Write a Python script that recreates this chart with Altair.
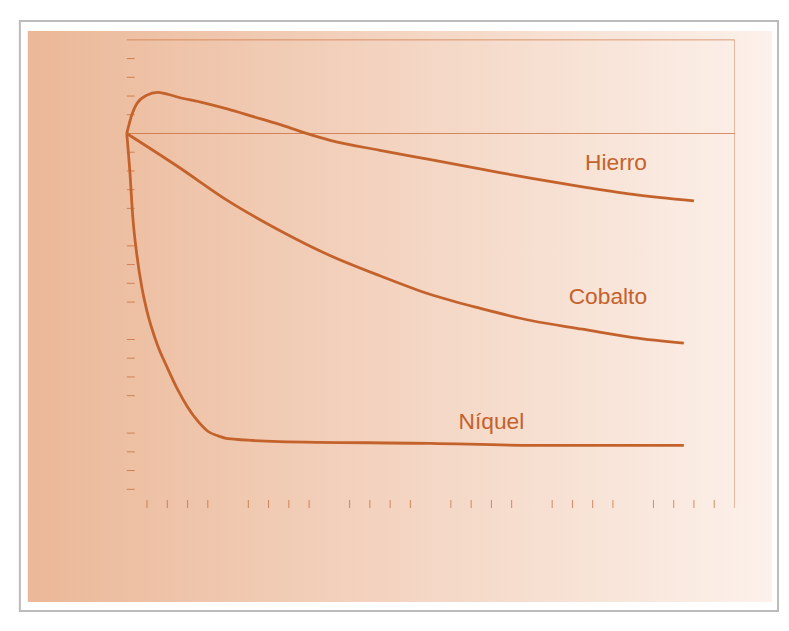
import altair as alt
import pandas as pd

hierro_x = [0, 0.5, 1, 2, 3, 4, 5, 7.5, 10, 12.5, 15, 17.5, 20, 25, 30, 35, 40, 45, 50, 56]
hierro_y = [0, 2, 3.2, 4.1, 4.4, 4.2, 3.9, 3.3, 2.6, 1.8, 1.0, 0.1, -0.7, -1.8, -2.8, -3.8, -4.8, -5.7, -6.5, -7.2]
cobalto_x = [0, 5, 10, 15, 20, 25, 30, 35, 40, 45, 50, 55]
cobalto_y = [0, -3.5, -7.2, -10.3, -13.0, -15.2, -17.2, -18.7, -20.0, -20.9, -21.8, -22.4]
niquel_x = [0, 0.3, 0.6, 1, 1.5, 2, 3, 4, 5, 6, 7, 8, 9, 10, 15, 30, 40, 55]
niquel_y = [0, -4, -9, -13, -16.5, -19, -22.5, -25, -27.3, -29.2, -30.7, -31.8, -32.3, -32.6, -32.9, -33.1, -33.3, -33.3]
labels = ["Hierro", "Cobalto", "Níquel"]
label_x = [48.3, 47.5, 36]
label_y = [-3.2, -17.5, -30.8]

C = "#c4622c"
rows = []
for name, xs_, ys_ in [("Hierro", hierro_x, hierro_y), ("Cobalto", cobalto_x, cobalto_y), ("Níquel", niquel_x, niquel_y)]:
    for i, (a, b) in enumerate(zip(xs_, ys_)):
        rows.append({"s": name, "H": a, "d": b, "o": i})
df = pd.DataFrame(rows)
lab = pd.DataFrame({"t": labels, "H": label_x, "d": label_y})

W, Hh = 614, 473
grad = {"gradient": "linear", "x1": 0, "x2": 1, "y1": 0, "y2": 0,
        "stops": [{"offset": 0, "color": "#ebb898"}, {"offset": 1, "color": "#fcf1eb"}]}

bg = alt.Chart(pd.DataFrame({"a": [0]})).mark_rect(fill=grad).encode(
    x=alt.value(-100), x2=alt.value(W + 38), y=alt.value(-9), y2=alt.value(Hh + 95))
frame = alt.Chart(pd.DataFrame({"a": [0]})).mark_rect(fill=None, stroke="#bbbbbb", strokeWidth=2).encode(
    x=alt.value(-108), x2=alt.value(W + 44), y=alt.value(-19), y2=alt.value(Hh + 104))

xs = alt.Scale(domain=[0, 60], nice=False)
ys = alt.Scale(domain=[-40, 10], nice=False)
xax = alt.Axis(title="Campo magnético H, kA/m", values=list(range(0, 61, 10)),
               grid=True, gridColor="#ffffff", gridOpacity=0.5, domainColor=C, tickColor=C,
               labelColor=C, titleColor=C, labelFontSize=20, titleFontSize=24, titleFontWeight="bold",
               labelFont="Liberation Sans", titleFont="Liberation Sans", tickSize=8, labelPadding=4,
               titlePadding=8)
yax = alt.Axis(title="Δl/l x 10⁻⁶ m/m", values=list(range(-40, 11, 10)), grid=False,
               domainColor=C, tickColor=C, labelColor=C, titleColor=C, labelFontSize=20,
               titleFontSize=22, titleFontWeight="bold", labelFont="Liberation Sans",
               titleFont="Liberation Sans", tickSize=8, titlePadding=10)

minor_x = alt.Chart(pd.DataFrame({"H": [v for v in range(0, 61, 2) if v % 10]})).mark_tick(
    color=C, orient="vertical", size=8, thickness=1).encode(
    x=alt.X("H:Q", scale=xs, axis=xax), y=alt.value(Hh - 4))
minor_y = alt.Chart(pd.DataFrame({"d": [v for v in range(-40, 11, 2) if v % 10]})).mark_tick(
    color=C, orient="horizontal", size=8, thickness=1).encode(
    y=alt.Y("d:Q", scale=ys, axis=yax), x=alt.value(4))
border = alt.Chart(pd.DataFrame({"a": [0]})).mark_rule(color=C, opacity=0.6).encode(
    x=alt.value(0), x2=alt.value(W), y=alt.value(0))
border2 = alt.Chart(pd.DataFrame({"a": [0]})).mark_rule(color=C, opacity=0.4).encode(
    x=alt.value(W), y=alt.value(0), y2=alt.value(Hh))
zero = alt.Chart(pd.DataFrame({"d": [0]})).mark_rule(color=C, opacity=0.7).encode(
    y=alt.Y("d:Q", scale=ys, axis=yax))

lines = alt.Chart(df).mark_line(color=C, strokeWidth=2.8, interpolate="monotone").encode(
    x=alt.X("H:Q", scale=xs, axis=xax), y=alt.Y("d:Q", scale=ys, axis=yax),
    detail="s:N", order="o:Q")
texts = alt.Chart(lab).mark_text(color=C, fontSize=23, font="Liberation Sans").encode(
    x=alt.X("H:Q", scale=xs, axis=xax), y=alt.Y("d:Q", scale=ys, axis=yax), text="t:N")

chart = alt.layer(bg, frame, border, border2, zero, lines, minor_x, minor_y, texts).properties(
    width=W, height=Hh, background="white",
    padding={"left": 120, "top": 29, "right": 47, "bottom": 115},
    autosize=alt.AutoSizeParams(type="none")
).configure_view(stroke=None)

chart.save("out.html", embed_options={"renderer": "svg", "actions": False})
